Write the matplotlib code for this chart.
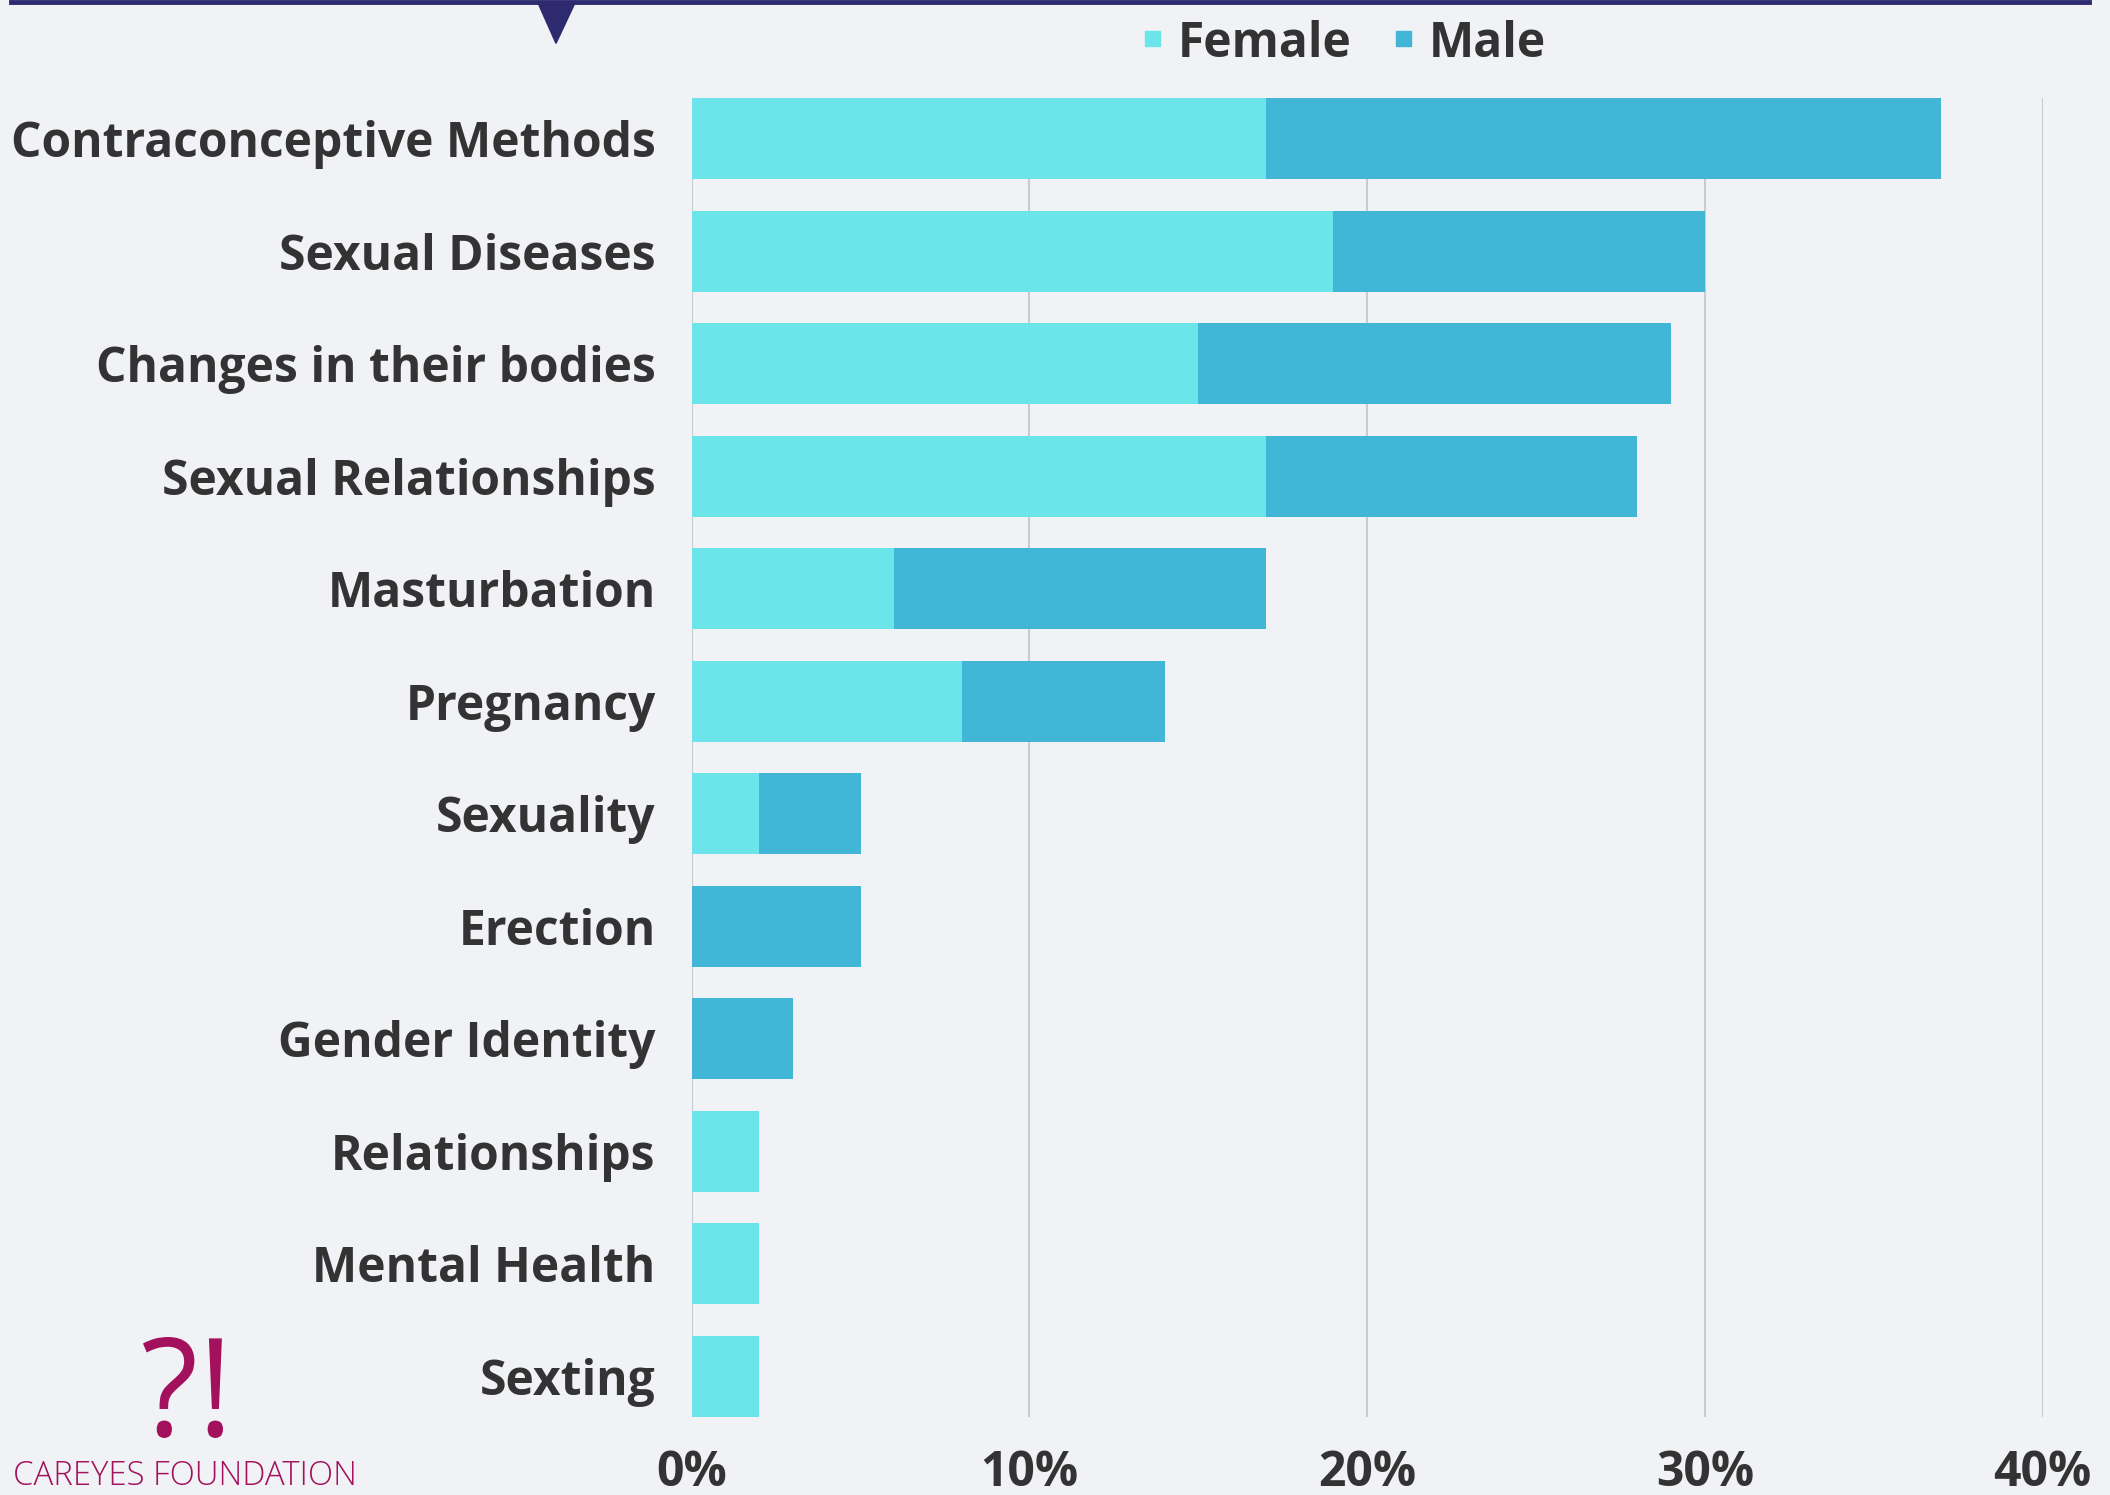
import matplotlib.pyplot as plt
from matplotlib.lines import Line2D
from matplotlib.patches import Polygon, Rectangle, PathPatch
from matplotlib.textpath import TextPath
from matplotlib.font_manager import FontProperties
from matplotlib.transforms import Affine2D
import numpy as np

# topics asked about, top to bottom
topics = ["Contraconceptive Methods", "Sexual Diseases", "Changes in their bodies",
          "Sexual Relationships", "Masturbation", "Pregnancy", "Sexuality", "Erection",
          "Gender Identity", "Relationships", "Mental Health", "Sexting"]
female = [17, 19, 15, 17, 6, 8, 2, 0, 0, 2, 2, 2]
male = [20, 11, 14, 11, 11, 6, 3, 5, 3, 0, 0, 0]
xticks = [0, 10, 20, 30, 40]
xtick_labels = ["0%", "10%", "20%", "30%", "40%"]

bg = "#f0f2f5"
female_col = "#6be5e9"
male_col = "#42b6d6"
text_col = "#333333"
navy = "#2e2a70"
logo_col = "#a3105c"

plt.rcParams["font.family"] = ["Open Sans", "DejaVu Sans"]

W, H = 2110, 1495
fig = plt.figure(figsize=(W / 100, H / 100), dpi=100, facecolor=bg)
ax = fig.add_axes([0.3278, 0.0522, 0.6403, 0.8822], facecolor=bg)

y = np.arange(len(topics))
ax.barh(y, female, height=0.72, color=female_col, zorder=3)
ax.barh(y, male, left=female, height=0.72, color=male_col, zorder=3)

ax.set_ylim(len(topics) - 1 + 0.36, -0.36)
ax.set_xlim(0, 40)
ax.set_yticks(y)
ax.set_yticklabels(topics, fontsize=34.6, fontweight="bold", color=text_col)
ax.set_xticks(xticks)
ax.set_xticklabels(xtick_labels, fontsize=34.6, fontweight="bold", color=text_col)
ax.tick_params(axis="y", length=0, pad=26)
ax.tick_params(axis="x", length=0, pad=23)
ax.grid(axis="x", color="#c9cbd0", linewidth=1.5, zorder=0)
for s in ax.spines.values():
    s.set_visible(False)

# legend at the top, drawn by hand
for lab, col, sx, tx in [("Female", female_col, 1145, 1178), ("Male", male_col, 1396, 1429)]:
    fig.add_artist(Rectangle((sx / W, 1 - 46 / H), 15 / W, 15 / H, color=col,
                             transform=fig.transFigure))
    fig.text(tx / W, 1 - 57 / H, lab, fontsize=34.6, fontweight="bold", color=text_col,
             ha="left", va="baseline")

# top navy line with little pointer
fig.add_artist(Line2D([0.005, 0.99], [0.9985, 0.9985], color=navy, linewidth=3.5))
fig.add_artist(Polygon([[0.255, 0.998], [0.2725, 0.998], [0.2635, 0.971]],
                       closed=True, color=navy, transform=fig.transFigure))

# logo bottom left: narrow "?!" fitted into its box
tp = TextPath((0, 0), "?!", size=100, prop=FontProperties(family="Open Sans"))
ext = tp.get_extents()
x0, x1, y0, y1 = 143, 223, 57, 158
tr = (Affine2D().translate(-ext.x0, -ext.y0)
      .scale((x1 - x0) / ext.width / W, (y1 - y0) / ext.height / H)
      .translate(x0 / W, y0 / H))
fig.add_artist(PathPatch(tr.transform_path(tp), color=logo_col, lw=0,
                         transform=fig.transFigure))
fig.text(13 / W, 1 - 1485 / H, "CAREYES FOUNDATION", fontsize=23.7, color=logo_col,
         fontweight="light", ha="left", va="baseline")

fig.savefig("out.png", dpi=100, facecolor=bg)
